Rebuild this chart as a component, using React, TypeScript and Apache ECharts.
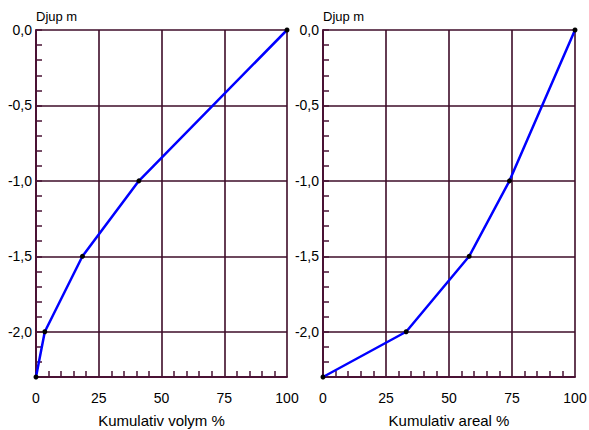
import React, { useEffect, useRef } from "react";
import * as echarts from "echarts";

const depths = [0, -1.0, -1.5, -2.0, -2.3];
const volymPct = [100, 41, 18.5, 3.5, 0];
const arealPct = [100, 74, 58, 33, 0];
const xTicks = [0, 25, 50, 75, 100];
const yMajorTicks = [0, -0.5, -1.0, -1.5, -2.0];
const yName = "Djup m";
const xNames = ["Kumulativ volym %", "Kumulativ areal %"];

const gridColor = "#3e0c28";
const axisColor = "#4a1234";
const font = "Liberation Sans, Arial, sans-serif";

export default function App() {
  const ref = useRef<HTMLDivElement>(null);
  useEffect(() => {
    const chart = echarts.init(ref.current!, null, { renderer: "svg" });
    const grids = [
      { left: 36, right: 302, top: 30, bottom: 53, outerBoundsMode: "none", containLabel: false },
      { left: 323, right: 14, top: 30, bottom: 53, outerBoundsMode: "none", containLabel: false },
    ];
    const fmtY = (v: number) => {
      const d = -v;
      if (!yMajorTicks.some((t) => Math.abs(t - d) < 1e-6)) return "";
      if (Math.abs(d) < 1e-9) return "0,0";
      return d.toFixed(1).replace(".", ",");
    };
    const xAxis: any[] = [];
    const yAxis: any[] = [];
    grids.forEach((g, i) => {
      xAxis.push({
        gridIndex: i,
        type: "value",
        position: "bottom",
        min: xTicks[0],
        max: xTicks[xTicks.length - 1],
        interval: 25,
        name: xNames[i],
        nameLocation: "middle",
        nameGap: 36,
        nameTextStyle: { fontFamily: font, fontSize: 15, color: "#000" },
        axisLine: { show: true, onZero: false, lineStyle: { color: axisColor, width: 2 } },
        axisTick: { show: true, inside: true, length: 0, lineStyle: { color: axisColor } },
        minorTick: { show: true, splitNumber: 5, length: 6, lineStyle: { color: axisColor, width: 1.5 } },
        axisLabel: { fontFamily: font, fontSize: 14, color: "#000", margin: 14 },
        splitLine: { show: true, lineStyle: { color: gridColor, width: 1.6 } },
      });
      yAxis.push({
        gridIndex: i,
        type: "value",
        inverse: true,
        min: 0,
        max: 2.3,
        interval: 0.5,
        name: yName,
        nameLocation: "start",
        nameGap: 7,
        nameTextStyle: { fontFamily: font, fontSize: 13, color: "#000", align: "left" },
        axisLine: { show: true, onZero: false, lineStyle: { color: axisColor, width: 2 } },
        axisTick: { show: false },
        axisLabel: { fontFamily: font, fontSize: 14, color: "#000", margin: 4, formatter: fmtY, showMaxLabel: false },
        splitLine: { show: true, lineStyle: { color: gridColor, width: 1.6 } },
      });
    });
    grids.forEach((g, i) => {
      yAxis.push({
        gridIndex: i,
        type: "value",
        inverse: true,
        position: "left",
        min: 0,
        max: 2.3,
        interval: 0.1,
        axisLine: { show: false, onZero: false },
        axisTick: { show: true, inside: true, length: 6, lineStyle: { color: axisColor, width: 1.5 } },
        axisLabel: { show: false },
        splitLine: { show: false },
      });
    });
    const mk = (xs: number[], i: number) => ({
      type: "line",
      xAxisIndex: i,
      yAxisIndex: i,
      data: xs.map((x, k) => [x, -depths[k]]),
      lineStyle: { color: "#0000ff", width: 2.5 },
      symbol: "circle",
      symbolSize: 5,
      itemStyle: { color: "#000" },
      z: 5,
    });
    chart.setOption({
      animation: false,
      grid: grids,
      xAxis,
      yAxis,
      series: [mk(volymPct, 0), mk(arealPct, 1)],
    });
    return () => chart.dispose();
  }, []);
  return <div ref={ref} style={{ width: 589, height: 430, position: "absolute", left: 0, top: 0, background: "#fff" }} />;
}
